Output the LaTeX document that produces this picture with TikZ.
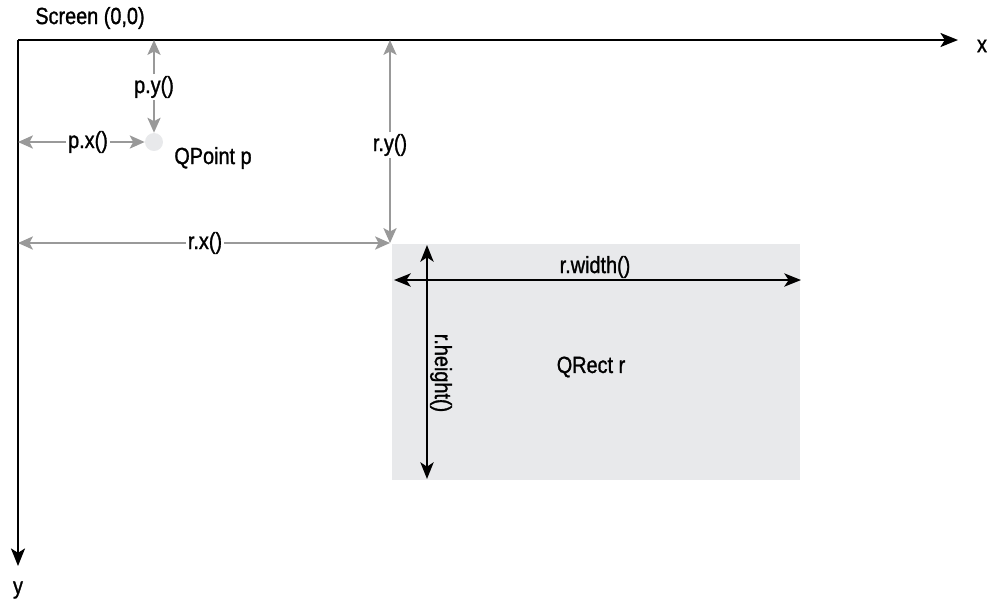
\documentclass[tikz,border=0pt]{standalone}
\usepackage{fontspec}
\setmainfont{Liberation Sans}[FakeStretch=0.85,FakeBold=1.2]
\usetikzlibrary{arrows.meta}
\definecolor{measgray}{HTML}{999999}
\definecolor{rectgray}{HTML}{E8E9EB}
\begin{document}
\begin{tikzpicture}[x=0.02cm,y=-0.02cm,
    font=\fontsize{13.3}{15}\selectfont,
    axis/.style={line width=1.1pt,-{Stealth[length=10pt,width=8pt,inset=2.5pt]}},
    meas/.style={measgray,line width=1.1pt,-{Stealth[length=8.5pt,width=7.5pt,inset=2pt]}},
    dim/.style={black,line width=1.4pt,{Stealth[length=9.5pt,width=7.5pt,inset=2.5pt]}-{Stealth[length=9.5pt,width=7.5pt,inset=2.5pt]}},
    lbl/.style={inner sep=1pt}]
\useasboundingbox (0,0) rectangle (990,600);

% Rechteck r
\fill[rectgray] (392,244) rectangle (800,480);

% Achsen
\coordinate (o) at (18,40);
\draw[axis] (o) -- (958,40);
\draw[axis] (o) -- (18,566);
\node at (982,46) {x};
\node at (18,590) {y};
\node at (90,18) {Screen (0,0)};

% Punkt p
\node[circle,fill=rectgray,inner sep=0pt,minimum size=0.36cm] (p) at (154,142) {};
\node at (213,158) {QPoint p};
\node[lbl] (py) at (154,87) {p.y()};
\draw[meas] (py) -- (154,40);
\draw[meas] (py) -- (p);
\node[lbl] (px) at (88,142) {p.x()};
\draw[meas] (px) -- (o |- px);
\draw[meas] (px) -- (p);

% Ursprung von r
\coordinate (r) at (390,243);
\node[lbl] (ry) at (390,145) {r.y()};
\draw[meas] (ry) -- (390,40);
\draw[meas] (ry) -- (r);
\node[lbl] (rx) at (205,243) {r.x()};
\draw[meas] (rx) -- (o |- rx);
\draw[meas] (rx) -- (r);

% Breite und Hoehe
\coordinate (wl) at (394,280);
\coordinate (wr) at (801,280);
\draw[dim] (wl) -- (wr);
\node at (595,267) {r.width()};
\coordinate (ht) at (427,245);
\coordinate (hb) at (427,479);
\draw[dim] (ht) -- (hb);
\node[rotate=-90] at (441,373) {r.height()};
\node at (591,367) {QRect r};
\end{tikzpicture}
\end{document}
